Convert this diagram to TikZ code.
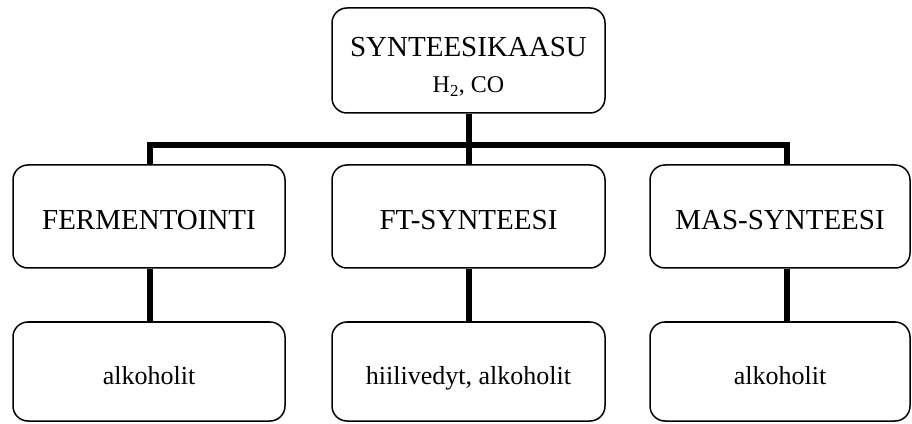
\documentclass[tikz,border=0pt]{standalone}
\usepackage{fontspec}
\setmainfont{Liberation Serif}
\usepackage{tikz}

\tikzset{
  box/.style={draw, line width=1.5pt, rounded corners=15pt, align=center, inner sep=0pt},
  caps/.style={font=\fontsize{29}{36}\selectfont, text height=27pt, text depth=0pt},
  small/.style={font=\fontsize{26}{30}\selectfont, text height=27pt, text depth=2pt},
  bar/.style={line width=6pt}
}

\begin{document}
\begin{tikzpicture}[x=1pt,y=1pt]
\useasboundingbox (0,0) rectangle (912,423);
\node[box, caps, minimum width=273pt, minimum height=105pt, text height=70pt, text depth=5pt] (gas) at (468.5,362.5)
  {SYNTEESIKAASU\\ {\fontsize{24}{36}\selectfont H\textsubscript{2}, CO}};
\node[box, caps, minimum width=272pt, minimum height=103pt] (ferm) at (149,206.5) {FERMENTOINTI};
\node[box, caps, minimum width=273pt, minimum height=103pt] (ft) at (468.5,206.5) {FT-SYNTEESI};
\node[box, caps, minimum width=260pt, minimum height=103pt] (mas) at (780,206.5) {MAS-SYNTEESI};
\node[box, small, minimum width=272pt, minimum height=99pt] (fermout) at (149,51.5) {alkoholit};
\node[box, small, minimum width=273pt, minimum height=99pt] (ftout) at (468.5,51.5) {hiilivedyt, alkoholit};
\node[box, small, minimum width=260pt, minimum height=99pt] (masout) at (780,51.5) {alkoholit};
\coordinate (jl) at (150,278);
\coordinate (jr) at (787,278);
\draw[bar] ([xshift=-3pt]jl) -- ([xshift=3pt]jr);
\draw[bar] (gas.south) -- (ft.north);
\draw[bar] (jl) -- (ferm.north -| jl);
\draw[bar] (jr) -- (mas.north -| jr);
\draw[bar] (ferm.south -| jl) -- (fermout.north -| jl);
\draw[bar] (ft.south) -- (ftout.north);
\draw[bar] (mas.south -| jr) -- (masout.north -| jr);
\end{tikzpicture}
\end{document}
